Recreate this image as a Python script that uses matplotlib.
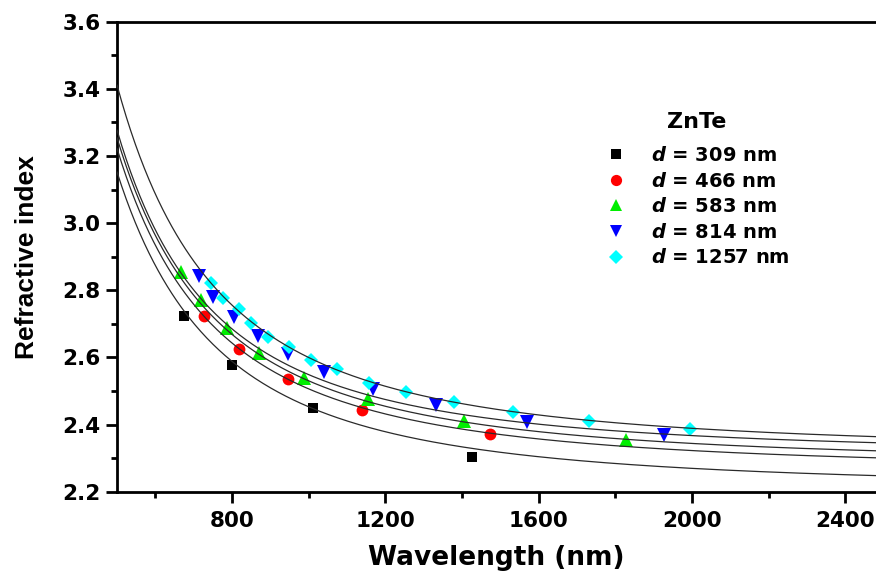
import numpy as np
import matplotlib
matplotlib.use('Agg')
import matplotlib.pyplot as plt
from matplotlib.ticker import MultipleLocator

plt.rcParams['font.family'] = 'DejaVu Sans'
plt.rcParams['mathtext.fontset'] = 'custom'
plt.rcParams['mathtext.it'] = 'DejaVu Sans:italic:bold'
plt.rcParams['mathtext.rm'] = 'DejaVu Sans:bold'

# measured refractive index for each film thickness
labels = ['309', '466', '583', '814', '1257']

wl_309 = [676, 800, 1010, 1426]
n_309 = [2.723, 2.577, 2.448, 2.304]

wl_466 = [727, 818, 945, 1140, 1474]
n_466 = [2.724, 2.625, 2.536, 2.443, 2.371]

wl_583 = [668, 718, 787, 871, 987, 1155, 1404, 1827]
n_583 = [2.855, 2.771, 2.687, 2.612, 2.538, 2.475, 2.411, 2.354]

wl_814 = [713, 750, 806, 867, 945, 1040, 1169, 1333, 1569, 1927]
n_814 = [2.843, 2.779, 2.721, 2.664, 2.610, 2.557, 2.505, 2.458, 2.409, 2.369]

wl_1257 = [746, 776, 817, 850, 893, 949, 1006, 1075, 1157, 1255, 1380, 1532, 1731, 1996]
n_1257 = [2.821, 2.776, 2.743, 2.703, 2.660, 2.632, 2.592, 2.565, 2.523, 2.498,
          2.468, 2.438, 2.411, 2.386]

# Cauchy fit n = A + B/lam^2 + C/lam^4 (lam in um), one per thickness
cauchy_A = [2.2076, 2.2608, 2.2811, 2.3066, 2.3177]
cauchy_B = [0.2483, 0.2471, 0.2510, 0.2418, 0.2848]
cauchy_C = [-0.00304, -0.00169, -0.00195, 0.000198, -0.00287]

wl_sets = [wl_309, wl_466, wl_583, wl_814, wl_1257]
n_sets = [n_309, n_466, n_583, n_814, n_1257]
colors = ['#000000', '#ff0000', '#00ee00', '#0000ff', '#00ffff']
markers = ['s', 'o', '^', 'v', 'D']
msizes = [7.5, 8.5, 9.5, 9.5, 7.2]

fig = plt.figure(figsize=(8.76, 5.74), dpi=100)
ax = fig.add_axes([0.1336, 0.1434, 0.8664, 0.8188])

lam = np.linspace(500, 2480, 500)
x = 1.0 / (lam / 1000.0) ** 2
for A, B, C in zip(cauchy_A, cauchy_B, cauchy_C):
    ax.plot(lam, A + B * x + C * x ** 2, color='#2a2a2a', lw=0.9, zorder=3)

for wl, n, c, m, ms, lab in zip(wl_sets, n_sets, colors, markers, msizes, labels):
    ax.plot(wl, n, linestyle='none', marker=m, color=c, markersize=ms,
            markeredgewidth=0, label=r'$d$ = ' + lab + ' nm', zorder=2)

ax.set_xlim(500, 2480)
ax.set_ylim(2.2, 3.6)
ax.xaxis.set_major_locator(MultipleLocator(400))
ax.xaxis.set_minor_locator(MultipleLocator(200))
ax.yaxis.set_major_locator(MultipleLocator(0.2))
ax.yaxis.set_minor_locator(MultipleLocator(0.1))
ax.yaxis.set_major_formatter(matplotlib.ticker.FormatStrFormatter('%.1f'))

for s in ['left', 'bottom', 'top']:
    ax.spines[s].set_linewidth(2)
ax.spines['right'].set_visible(False)
ax.tick_params(which='both', direction='out', width=2, top=False, right=False)
ax.tick_params(which='major', length=8)
ax.tick_params(which='minor', length=4.5)
ax.tick_params(axis='y', which='major', pad=4)
ax.tick_params(axis='x', which='major', pad=6)
for t in ax.get_xticklabels() + ax.get_yticklabels():
    t.set_fontsize(15.5)
    t.set_fontweight('bold')

ax.set_xlabel('Wavelength (nm)', fontsize=19, fontweight='bold')
ax.xaxis.set_label_coords(0.5, -0.114)
ax.set_ylabel('Refractive index', fontsize=19, fontweight='bold',
              family='Liberation Sans')
ax.yaxis.set_label_coords(-0.103, 0.5)

# legend title set apart from the entries
fig.text(697 / 876, 1 - 122 / 574, 'ZnTe', fontsize=16, fontweight='bold',
         ha='center', va='center')
leg = ax.legend(loc='upper left', bbox_to_anchor=(606 / 876, 1 - 146 / 574),
                bbox_transform=fig.transFigure, frameon=False, fontsize=14,
                borderpad=0, borderaxespad=0, handlelength=1.0,
                handletextpad=1.3, labelspacing=0.34, markerscale=0.95)
for t in leg.get_texts():
    t.set_fontweight('bold')

fig.savefig('out.png', dpi=100)
